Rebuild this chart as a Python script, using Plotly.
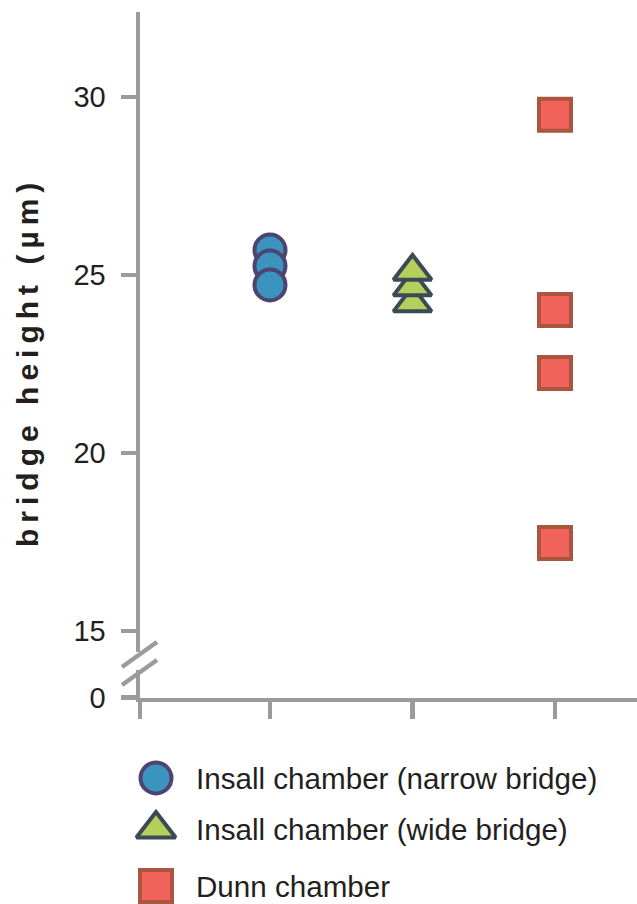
import plotly.graph_objects as go

W, H = 637, 904

# ---- data ----
series_names = ["Insall chamber (narrow bridge)", "Insall chamber (wide bridge)", "Dunn chamber"]
series_x = [1, 2, 3]
narrow_heights = [25.70, 25.25, 24.72]
wide_heights = [24.21, 24.66, 25.10]
dunn_heights = [29.50, 24.02, 22.25, 17.47]
y_tick_vals = [15, 20, 25, 30]
y_low_tick_vals = [0]
y_title = "bridge height (µm)"

# ---- styles ----
GRAY = "#9b9b9b"
TXT = "#231f20"
FONT = "Liberation Sans, Arial, Helvetica, sans-serif"
styles = [
    dict(symbol="circle", size=31, color="#3a94be", line=dict(color="#4d4472", width=4)),
    dict(symbol="triangle-up", size=33, color="#b4cf5c", line=dict(color="#3b4a55", width=4)),
    dict(symbol="square", size=32, color="#f0625a", line=dict(color="#a9553f", width=4)),
]
legend_styles = [
    dict(symbol="circle", size=31, color="#3a94be", line=dict(color="#4d4472", width=4)),
    dict(symbol="triangle-up", size=34, color="#b4cf5c", line=dict(color="#3b4a55", width=4)),
    dict(symbol="square", size=32, color="#f0625a", line=dict(color="#a9553f", width=4)),
]

# pixel geometry of the reference frame
PX_LEFT = 140
PX_MAIN_TOP, PX_MAIN_BOT = 12, 652
PX_LOW_TOP, PX_LOW_BOT = 670, 697.5
PX_PER_Y = 35.6          # pixels per µm
PX_PER_X = 142.5         # pixels per category step
PX_CAT1 = 270            # pixel of first category


def fx(px):
    return px / W


def fy(py):
    return 1 - py / H


y_top = 30 + (97 - PX_MAIN_TOP) / PX_PER_Y
y_bot = y_top - (PX_MAIN_BOT - PX_MAIN_TOP) / PX_PER_Y
x0 = 1 - (PX_CAT1 - PX_LEFT) / PX_PER_X
x1 = x0 + (W - PX_LEFT) / PX_PER_X

fig = go.Figure()
data_sets = [narrow_heights, wide_heights, dunn_heights]
for xv, ys, st, nm in zip(series_x, data_sets, styles, series_names):
    fig.add_trace(go.Scatter(
        x=[xv] * len(ys), y=ys, mode="markers", name=nm,
        marker=st, xaxis="x", yaxis="y", showlegend=False, cliponaxis=False,
    ))

# empty trace so that the lower (broken) axis segment forms a subplot
fig.add_trace(go.Scatter(x=[None], y=[None], mode="markers", xaxis="x", yaxis="y2",
                         showlegend=False, hoverinfo="skip"))

# custom legend drawn on an overlay pixel axis
leg_x_marker = 156
leg_x_text = 194
leg_y = [778, 829, 886]
for nm, st, yy in zip(series_names, legend_styles, leg_y):
    fig.add_trace(go.Scatter(
        x=[leg_x_marker], y=[yy], mode="markers", marker=st,
        xaxis="x3", yaxis="y3", showlegend=False, cliponaxis=False, hoverinfo="skip",
    ))
    fig.add_annotation(x=leg_x_text, y=yy, xref="x3", yref="y3", text=nm,
                       showarrow=False, xanchor="left", yanchor="middle",
                       font=dict(family=FONT, size=29.6, color=TXT))

# axis-break slashes
for (xa, ya, xb, yb) in [(122, 667, 157, 642), (122, 685, 157, 660)]:
    fig.add_shape(type="line", x0=xa, y0=ya, x1=xb, y1=yb, xref="x3", yref="y3",
                  line=dict(color=GRAY, width=4.5))

# y-axis title (letter-spaced with thin spaces)
THIN = "\u2009"
spaced = (THIN + " " + THIN).join(THIN.join(list(w)) for w in y_title.split(" "))
fig.add_annotation(x=27, y=365, xref="x3", yref="y3", text="<b>" + spaced + "</b>",
                   textangle=-90, showarrow=False, xanchor="center", yanchor="middle",
                   font=dict(family=FONT, size=30, color=TXT))

axis_common = dict(showline=True, linecolor=GRAY, linewidth=4.5, ticks="outside",
                   tickcolor=GRAY, tickwidth=4.5, showgrid=False, zeroline=False,
                   automargin=False, fixedrange=True,
                   tickfont=dict(family=FONT, size=29, color=TXT))

fig.update_layout(
    width=W, height=H, margin=dict(l=0, r=0, t=0, b=0, autoexpand=False),
    paper_bgcolor="white", plot_bgcolor="rgba(0,0,0,0)", showlegend=False,
    xaxis=dict(domain=[fx(PX_LEFT), 1], range=[x0, x1], anchor="y2",
               tickvals=[x0] + series_x, showticklabels=False, ticklen=17, **axis_common),
    yaxis=dict(domain=[fy(PX_MAIN_BOT), fy(PX_MAIN_TOP)], range=[y_bot, y_top],
               anchor="x", tickvals=y_tick_vals, ticklen=15, ticklabelstandoff=9, **axis_common),
    yaxis2=dict(domain=[fy(PX_LOW_BOT), fy(PX_LOW_TOP)], range=[0, 1],
                anchor="x", tickvals=y_low_tick_vals, ticklen=15, ticklabelstandoff=9, **axis_common),
    xaxis3=dict(domain=[0, 1], range=[0, W], visible=False, anchor="y3",
                automargin=False, fixedrange=True),
    yaxis3=dict(domain=[0, 1], range=[H, 0], visible=False, anchor="x3",
                automargin=False, fixedrange=True),
)

# remove the default page margin so the figure fills the window exactly
fig.write_html("out.html", config={"displayModeBar": False, "staticPlot": True},
               post_script="document.body.style.margin='0';document.body.style.overflow='hidden';")
